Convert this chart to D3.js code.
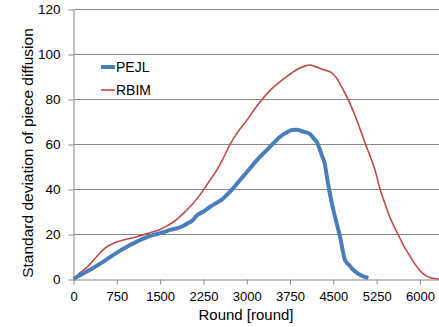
<!DOCTYPE html>
<html>
<head>
<meta charset="utf-8">
<script src="https://d3js.org/d3.v7.min.js"></script>
<style>
  body { margin: 0; background: #fff; }
  text { font-family: "Liberation Sans", Arial, sans-serif; fill: #000; }
</style>
</head>
<body>
<script>
// data
var pejlRound = [0,120,232,380,520,660,808,950,1097,1240,1385,1530,1674,1847,1960,2060,2135,2250,2366,2460,2568,2712,2885,3058,3200,3347,3470,3578,3680,3790,3866,3980,4097,4160,4212,4260,4299,4356,4385,4440,4500,4560,4616,4660,4702,4780,4847,4920,4991,5060,5106];
var pejlValue = [0,1.8,3.3,5.5,7.7,10.2,12.6,14.7,16.6,18.3,19.6,20.6,21.8,23,24.5,26,28.2,30,32.1,33.6,35.3,38.8,44,49.2,53.5,57.3,60.5,63.2,65,66.2,66.3,65.5,64.4,62.5,61,58,55.1,50.7,46,38,30.7,24.5,18.8,13,8.4,6,4,2.5,1.5,0.8,0.4];

var rbimRound = [0,116,232,376,520,693,866,1097,1327,1500,1616,1765,1904,2050,2193,2366,2482,2600,2712,2850,3001,3150,3289,3430,3578,3720,3866,3990,4097,4180,4270,4360,4443,4500,4558,4620,4674,4760,4830,4905,4980,5049,5124,5222,5308,5380,5452,5540,5625,5710,5798,5885,5971,6050,6116,6190,6260,6330];
var rbimValue = [0,2.8,5.2,9.2,13.2,15.9,17.3,18.8,20.6,22,23.6,26,29.2,33,37.5,44,48.4,54,59.8,65.5,70.5,76,80.5,84.5,87.7,90.5,93,94.5,95.1,94.5,93.6,92.8,92.1,91,89.2,86.5,84,79.6,75.5,70.7,65.5,60.5,55.5,48.4,40,34.5,29.2,24,19.6,15.2,11.4,7.7,4.7,2.5,1.3,0.5,0.2,0];

var xTicks = [0,750,1500,2250,3000,3750,4500,5250,6000];
var yTicks = [0,20,40,60,80,100,120];
var seriesNames = ["PEJL","RBIM"];
var seriesColors = ["#4a7ebb","#be4b48"];

var W = 439, H = 327;
var plotLeft = 73.5, plotRight = 439, plotTop = 9, plotBottom = 279;

var svg = d3.select("body").append("svg")
    .attr("width", W)
    .attr("height", H);

var x = d3.scaleLinear().domain([0, 6330]).range([plotLeft, plotRight]);
var y = d3.scaleLinear().domain([0, 120]).range([plotBottom, plotTop]);

// gridlines
svg.append("g").selectAll("line")
    .data(yTicks.filter(function(d){ return d > 0; }))
    .enter().append("line")
    .attr("x1", plotLeft).attr("x2", plotRight)
    .attr("y1", function(d){ return Math.round(y(d)) + 0.5; })
    .attr("y2", function(d){ return Math.round(y(d)) + 0.5; })
    .attr("stroke", "#868686").attr("stroke-width", 1);

// y axis
var yAxis = svg.append("g")
    .attr("transform", "translate(" + plotLeft + ",0.5)")
    .call(d3.axisLeft(y).tickValues(yTicks).tickSize(5).tickPadding(8).tickSizeOuter(0));
yAxis.selectAll("text").style("font-size", "13.5px");

// x axis
var xAxis = svg.append("g")
    .attr("transform", "translate(0," + (plotBottom + 0.5) + ")")
    .call(d3.axisBottom(x).tickValues(xTicks).tickFormat(d3.format("d")).tickSize(5).tickPadding(7).tickSizeOuter(0));
xAxis.selectAll("text").style("font-size", "13px");

svg.selectAll(".domain, .tick line").attr("stroke", "#868686");

// lines
var line = d3.line()
    .curve(d3.curveMonotoneX)
    .x(function(d){ return x(d[0]); })
    .y(function(d){ return y(d[1]); });

var pejl = pejlRound.map(function(r, i){ return [r, pejlValue[i]]; });
var rbim = rbimRound.map(function(r, i){ return [r, rbimValue[i]]; });

svg.append("path").datum(rbim)
    .attr("d", line)
    .attr("fill", "none")
    .attr("stroke", seriesColors[1])
    .attr("stroke-width", 1.6);

svg.append("path").datum(pejl)
    .attr("d", line)
    .attr("fill", "none")
    .attr("stroke", seriesColors[0])
    .attr("stroke-width", 4)
    .attr("stroke-linejoin", "round");

// legend
var legend = svg.append("g");
seriesNames.forEach(function(name, i){
    var ly = 67 + i * 23;
    legend.append("line")
        .attr("x1", 101).attr("x2", 115)
        .attr("y1", ly).attr("y2", ly)
        .attr("stroke", seriesColors[i])
        .attr("stroke-width", i == 0 ? 4 : 1.6);
    legend.append("text")
        .attr("x", 116).attr("y", ly + 5)
        .style("font-size", "14px")
        .text(name);
});

// axis titles
svg.append("text")
    .attr("transform", "translate(33,153) rotate(-90)")
    .attr("text-anchor", "middle")
    .style("font-size", "15.5px")
    .text("Standard deviation of piece diffusion");

svg.append("text")
    .attr("x", 246).attr("y", 320)
    .attr("text-anchor", "middle")
    .style("font-size", "15px")
    .text("Round [round]");
</script>
</body>
</html>
